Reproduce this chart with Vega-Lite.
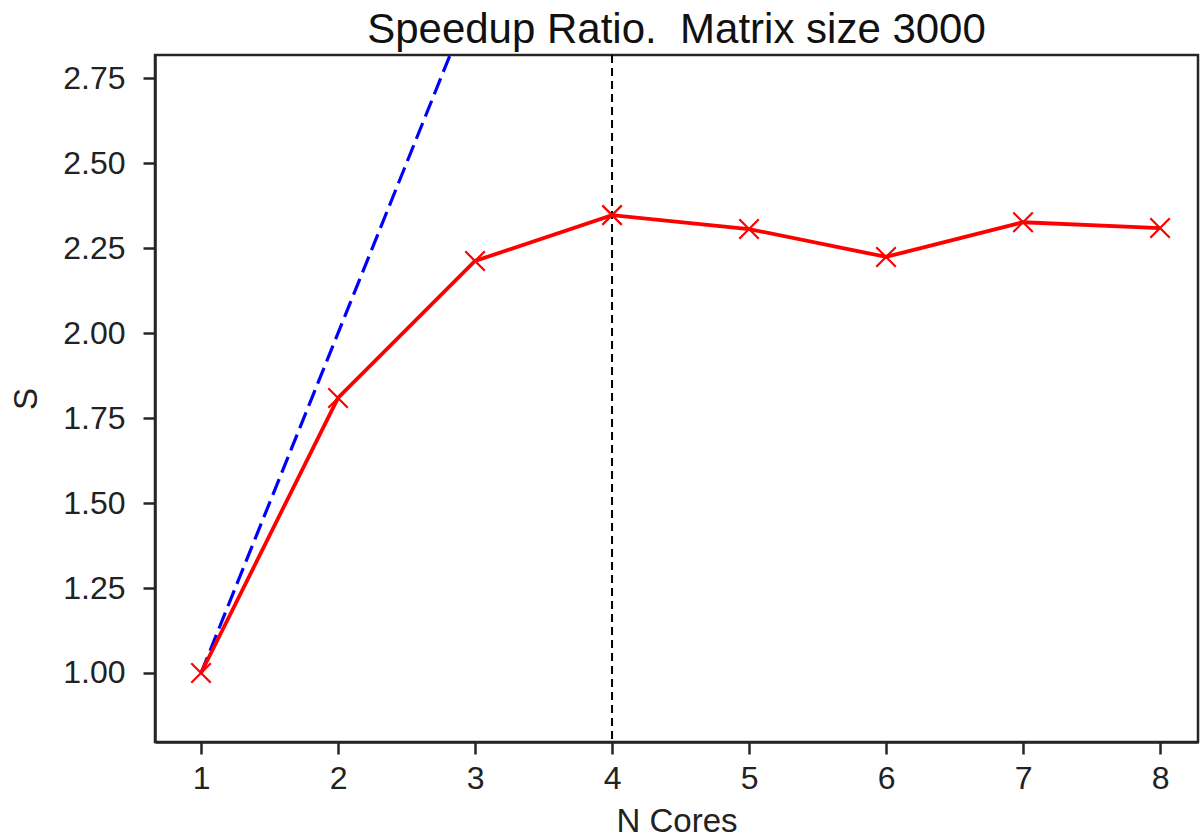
{
  "$schema": "https://vega.github.io/schema/vega-lite/v6.json",
  "autosize": "none",
  "width": 1043,
  "height": 687,
  "padding": {"left": 155, "top": 55, "right": 3, "bottom": 97},
  "background": "white",
  "title": {"text": "Speedup Ratio.\u00a0 Matrix size 3000", "font": "Liberation Sans", "fontSize": 42, "fontWeight": "normal", "color": "#111111", "offset": 2},
  "config": {
    "view": {"stroke": "#262626", "strokeWidth": 2.5},
    "axis": {
      "grid": false,
      "domainColor": "#262626", "domainWidth": 2.5,
      "tickColor": "#262626", "tickWidth": 2.5, "tickSize": 12,
      "labelFont": "Liberation Sans", "labelFontSize": 32, "labelColor": "#222222",
      "titleFont": "Liberation Sans", "titleFontSize": 33, "titleFontWeight": "normal", "titleColor": "#222222"
    }
  },
  "datasets": {
    "measured": [
      {"n": 1, "s": 1.0},
      {"n": 2, "s": 1.809},
      {"n": 3, "s": 2.212},
      {"n": 4, "s": 2.347},
      {"n": 5, "s": 2.306},
      {"n": 6, "s": 2.224},
      {"n": 7, "s": 2.326},
      {"n": 8, "s": 2.309}
    ],
    "ideal": [
      {"n": 1, "s": 1}, {"n": 2, "s": 2}, {"n": 3, "s": 3}, {"n": 4, "s": 4},
      {"n": 5, "s": 5}, {"n": 6, "s": 6}, {"n": 7, "s": 7}, {"n": 8, "s": 8}
    ],
    "vline": [{"n": 4}]
  },
  "layer": [
    {
      "data": {"name": "ideal"},
      "mark": {"type": "line", "color": "blue", "strokeWidth": 3.2, "strokeDash": [17, 7], "clip": true},
      "encoding": {
        "x": {"field": "n", "type": "quantitative", "scale": {"domain": [0.664, 8.277], "nice": false, "zero": false},
          "axis": {"values": [1,2,3,4,5,6,7,8], "format": "d", "title": "N Cores", "labelPadding": 9, "titlePadding": 11}},
        "y": {"field": "s", "type": "quantitative", "scale": {"domain": [0.797, 2.818], "nice": false, "zero": false},
          "axis": {"values": [1,1.25,1.5,1.75,2,2.25,2.5,2.75], "format": ".2f", "title": "S", "labelPadding": 18, "titlePadding": 19}}
      }
    },
    {
      "data": {"name": "vline"},
      "mark": {"type": "rule", "color": "black", "strokeWidth": 2, "strokeDash": [8, 5]},
      "encoding": {"x": {"field": "n", "type": "quantitative"}}
    },
    {
      "data": {"name": "measured"},
      "mark": {"type": "line", "color": "red", "strokeWidth": 3.8},
      "encoding": {
        "x": {"field": "n", "type": "quantitative"},
        "y": {"field": "s", "type": "quantitative"}
      }
    },
    {
      "data": {"name": "measured"},
      "mark": {"type": "point", "shape": "M-1,-1L1,1M-1,1L1,-1", "filled": false, "stroke": "red", "strokeWidth": 2.2, "size": 380, "opacity": 1},
      "encoding": {
        "x": {"field": "n", "type": "quantitative"},
        "y": {"field": "s", "type": "quantitative"}
      }
    }
  ]
}
